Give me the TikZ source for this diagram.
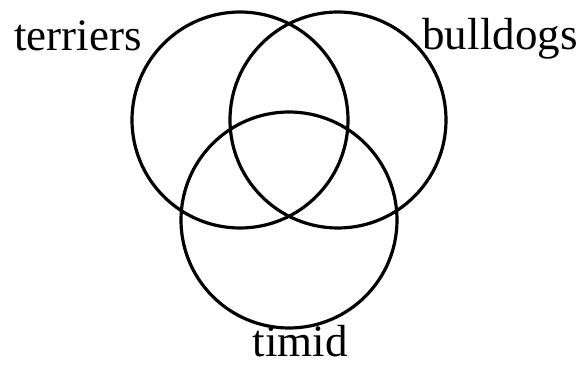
\documentclass[tikz,border=0pt]{standalone}
\usepackage{fontspec}
\setmainfont{Liberation Serif}
\usetikzlibrary{positioning}
\tikzset{
  setc/.style={draw=black,line width=3.2pt,circle,inner sep=0pt,minimum size=216pt},
  setlbl/.style={anchor=base,inner sep=0pt,font=\fontsize{45}{54}\selectfont}
}

\begin{document}
\begin{tikzpicture}[x=1pt,y=-1pt]
  \useasboundingbox (0,0) rectangle (582,366);
  % the three sets
  \node[setc] (terr) at (240,120) {};
  \node[setc] (bull) at (338,120) {};
  \node[setc] (tim) at (289,220) {};
  % labels
  \node[setlbl] (terrlbl) at (78,51) {terriers};
  \node[setlbl] (bulllbl) at (500,50) {bulldogs};
  \node[setlbl] (timlbl) at (300,357) {timid};
\end{tikzpicture}
\end{document}
